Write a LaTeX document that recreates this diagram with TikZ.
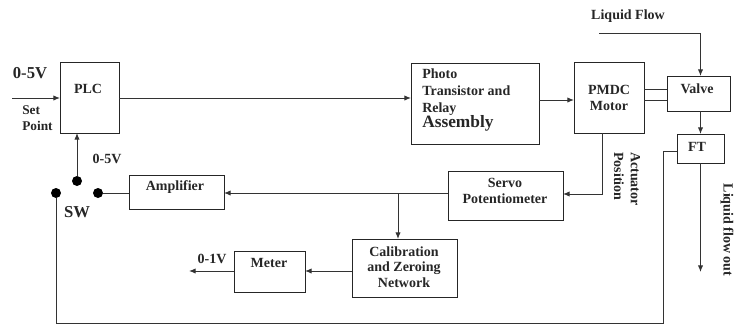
\documentclass[tikz,border=0pt]{standalone}
\usepackage{fontspec}
\setmainfont{Liberation Serif}
\usetikzlibrary{arrows.meta}
\begin{document}
\begin{tikzpicture}[x=0.75pt,y=-0.75pt,
  blk/.style={draw=black!85,line width=0.7pt,inner sep=0pt,outer sep=0pt},
  txt/.style={font=\fontsize{10.5}{12.5}\selectfont\bfseries,inner sep=0pt,text=black!85},
  wire/.style={draw=black!80,line width=0.7pt},
  arr/.style={wire,-{Latex[length=5pt,width=4pt]}},
  dot/.style={circle,fill=black,inner sep=0pt,minimum size=7.5pt}]
\useasboundingbox (0,0) rectangle (736,325);
% boxes
\node[blk,minimum width=44.25pt,minimum height=53.25pt] (PLC) at (89.5,97.5) {};
\node[blk,minimum width=96pt,minimum height=60.75pt] (Photo) at (475,103.5) {};
\node[blk,minimum width=52.5pt,minimum height=53.25pt] (PMDC) at (609,97.5) {};
\node[blk,minimum width=47.25pt,minimum height=26.25pt] (Valve) at (698.5,93.5) {};
\node[blk,minimum width=35.25pt,minimum height=21.75pt] (FT) at (700.5,148.5) {};
\node[blk,minimum width=86.25pt,minimum height=36.75pt] (Servo) at (505.5,195.5) {};
\node[blk,minimum width=71.25pt,minimum height=25.5pt] (Amp) at (176.5,192) {};
\node[blk,minimum width=78.75pt,minimum height=43.5pt] (Calib) at (404.5,268) {};
\node[blk,minimum width=53.25pt,minimum height=30.75pt] (Meter) at (269.5,271.5) {};
% texts
\node[txt] (tPLC) at (88,89) {PLC};
\node[txt,align=left,anchor=north west] (tPhoto) at (422,69) {Photo\\Transistor and\\Relay\\[-1pt]{\fontsize{13}{14}\selectfont Assembly}};
\node[txt,align=center] (tPMDC) at (609,98) {PMDC\\Motor};
\node[txt] (tValve) at (697,89) {Valve};
\node[txt] (tFT) at (697,147) {FT};
\node[txt,align=center] (tServo) at (505,191) {Servo\\Potentiometer};
\node[txt] (tAmp) at (175,187) {Amplifier};
\node[txt,align=center] (tCalib) at (404,267) {Calibration\\[-1pt]and Zeroing\\[-1pt]Network};
\node[txt] (tMeter) at (269,263) {Meter};
\node[txt] (t01) at (212,259) {0-1V};
\node[txt,font=\fontsize{12.5}{14}\selectfont\bfseries] (t05a) at (30,73) {0-5V};
\node[txt,font=\fontsize{10}{12.5}\selectfont\bfseries,align=left,anchor=north west] (tSet) at (22,105) {Set\\Point};
\node[txt] (t05b) at (107,159) {0-5V};
\node[txt,font=\fontsize{12.5}{14}\selectfont\bfseries] (tSW) at (77,212) {SW};
\node[txt] (tLF) at (628,16) {Liquid Flow};
\node[txt,rotate=-90] (tOut) at (727,230) {Liquid flow out};
\node[txt,rotate=-90,align=left] (tAct) at (627,179) {Actuator\\Position};
% switch dots
\node[dot] (dT) at (77,181) {};
\node[dot] (dL) at (56,193) {};
\node[dot] (dR) at (98,193) {};
% helper coordinates
\coordinate (in) at (12,98);
\coordinate (y100) at (0,100);
\coordinate (y89) at (0,89);
\coordinate (y151) at (0,151);
\coordinate (y193) at (0,193);
\coordinate (y194) at (0,194);
\coordinate (y271) at (0,271);
\coordinate (lf) at (599,33);
\coordinate (out) at (700.5,272);
\coordinate (fbx) at (663,323);
\coordinate (br) at (398,193);
\coordinate (mout) at (189,271);
% connectors
\draw[arr] (in) -- (in -| PLC.west);
\draw[arr] (PLC.east |- in) -- (in -| Photo.west);
\draw[arr] (Photo.east |- y100) -- (PMDC.west |- y100);
\draw[wire] (PMDC.east |- y89) -- (Valve.west |- y89);
\draw[wire] (PMDC.east |- y100) -- (Valve.west |- y100);
\draw[arr] (lf) -| (FT.north |- Valve.north);
\draw[arr] (FT.north |- Valve.south) -- (FT.north);
\draw[arr] (FT.south) -- (out);
\draw[wire] (FT.west |- y151) -| (fbx) -| (dL);
\draw[arr] ([xshift=-5.25pt]PMDC.south) |- (Servo.east |- y194);
\draw[arr] (Servo.west |- y193) -- (Amp.east |- y193);
\draw[arr] (br) -- (br |- Calib.north);
\draw[arr] (Calib.west |- y271) -- (Meter.east |- y271);
\draw[arr] (Meter.west |- y271) -- (mout);
\draw[arr] (dT) -- (dT |- PLC.south);
\draw[wire] (dR) -- (Amp.west |- dR);
\end{tikzpicture}
\end{document}
